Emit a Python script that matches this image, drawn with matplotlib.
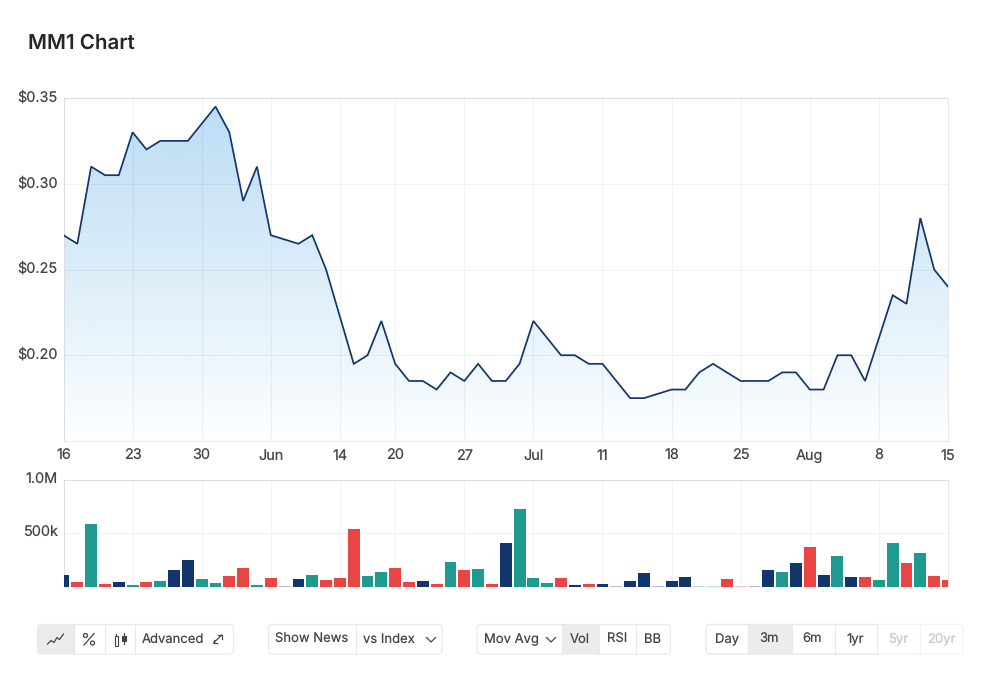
#!/usr/bin/env python3

# plot.py
# MM1 share price and volume chart with the toolbar underneath

import matplotlib
matplotlib.use("Agg")
import matplotlib.pyplot as plt
import numpy as np
from matplotlib.colors import to_rgb
from matplotlib.patches import Circle, FancyBboxPatch, Polygon, Rectangle
from matplotlib.transforms import ScaledTranslation

plt.rcParams['font.family'] = ['Inter', 'DejaVu Sans']
plt.rcParams['text.hinting'] = 'no_hinting'
plt.rcParams['text.hinting_factor'] = 1

# Data
prices = [0.27, 0.265, 0.31, 0.305, 0.305, 0.33, 0.32, 0.325, 0.325, 0.325,
          0.335, 0.345, 0.33, 0.29, 0.31, 0.27, 0.2675, 0.265, 0.27, 0.25,
          0.2225, 0.195, 0.20, 0.22, 0.195, 0.185, 0.185, 0.18, 0.19, 0.185,
          0.195, 0.185, 0.185, 0.195, 0.22, 0.21, 0.20, 0.20, 0.195, 0.195,
          0.185, 0.175, 0.175, 0.1775, 0.18, 0.18, 0.19, 0.195, 0.19, 0.185,
          0.185, 0.185, 0.19, 0.19, 0.18, 0.18, 0.20, 0.20, 0.185, 0.21,
          0.235, 0.23, 0.28, 0.25, 0.24]

volumes = [110, 40, 585, 22, 40, 14, 40, 50, 153, 244,
           72, 31, 100, 172, 12, 81, 8, 72, 110, 62,
           81, 534, 100, 131, 175, 40, 50, 22, 231, 153,
           162, 22, 403, 725, 81, 31, 81, 12, 22, 22,
           8, 50, 125, 8, 50, 90, 8, 8, 72, 8,
           8, 153, 131, 222, 372, 110, 281, 90, 90, 62,
           403, 222, 312, 100, 62]

# n = navy, g = teal, r = red, capitals are the pale variants
volume_kinds = list("nrgrngrgnn"
                    "ggrrgrNngr"
                    "rrggrrnrgr"
                    "grngggrnrn"
                    "NnnNnnGGrR"
                    "Nngnrngnrg"
                    "grgrr")

tick_positions = [0, 5, 10, 15, 20, 24, 29, 34, 39, 44, 49, 54, 59, 64]
tick_labels = ["16", "23", "30", "Jun", "14", "20", "27", "Jul", "11", "18",
               "25", "Aug", "8", "15"]

price_ticks = [0.15, 0.20, 0.25, 0.30, 0.35]
price_tick_labels = ["", "$0.20", "$0.25", "$0.30", "$0.35"]
volume_ticks = [0, 500, 1000]
volume_tick_labels = ["", "500k", "1.0M"]

NAVY = "#12366b"
GRID = "#1a2640"
EDGE = "#e8e9eb"
TEXT = "#444444"
kind_colors = {"n": NAVY, "g": "#1f9a8f", "r": "#ea4545",
               "N": "#b3bfd2", "G": "#b5e0dc", "R": "#fac3c3"}

WIDTH, HEIGHT = 1000, 675


def axes_from_pixels(left, top, right, bottom):
    return fig.add_axes([left / WIDTH, 1 - bottom / HEIGHT,
                         (right - left) / WIDTH, (bottom - top) / HEIGHT])


def style_axes(ax):
    ax.set_xlim(0, 64)
    ax.set_xticks(tick_positions)
    ax.grid(True, color=GRID, alpha=0.06, linewidth=0.75)
    ax.set_axisbelow(False)
    ax.tick_params(length=0, labelsize=10.4, labelcolor=TEXT)
    for spine in ax.spines.values():
        spine.set_color(EDGE)
        spine.set_linewidth(0.75)


def raise_y_labels(ax, pixels):
    # y labels sit slightly above their grid lines
    shift = ScaledTranslation(0, pixels / 100, fig.dpi_scale_trans)
    for tick_label in ax.get_yticklabels():
        tick_label.set_transform(tick_label.get_transform() + shift)


fig = plt.figure(figsize=(WIDTH / 100, HEIGHT / 100), dpi=100, facecolor="white")

# Price panel
ax_price = axes_from_pixels(63.5, 98, 948, 441)
x = np.arange(len(prices))

# vertical gradient under the line, clipped to the area below it
rgb = to_rgb("#a9d3f1")
gradient = np.zeros((256, 1, 4))
gradient[..., :3] = rgb
gradient[..., 3] = np.linspace(0.78, 0.02, 256)[:, None]
image = ax_price.imshow(gradient, extent=[0, 64, 0.15, max(prices)], aspect="auto",
                        origin="upper", zorder=1)
outline = list(zip(x, prices)) + [(64, 0.15), (0, 0.15)]
clip = Polygon(outline, closed=True, transform=ax_price.transData, facecolor="none",
               edgecolor="none")
ax_price.add_patch(clip)
image.set_clip_path(clip)

ax_price.plot(x, prices, color=NAVY, linewidth=1.25, zorder=3, solid_joinstyle="miter")
ax_price.set_ylim(0.15, 0.35)
style_axes(ax_price)
ax_price.set_xticklabels(tick_labels)
ax_price.set_yticks(price_ticks)
ax_price.set_yticklabels(price_tick_labels)
ax_price.tick_params(axis="x", pad=6)
ax_price.tick_params(axis="y", pad=4)
raise_y_labels(ax_price, 2)

# Volume panel
ax_vol = axes_from_pixels(63.5, 479.5, 948, 586.5)
ax_vol.bar(x, volumes, width=0.86, color=[kind_colors[k] for k in volume_kinds], zorder=3)
ax_vol.set_ylim(0, 1000)
style_axes(ax_vol)
ax_vol.set_xticklabels([])
ax_vol.set_yticks(volume_ticks)
ax_vol.set_yticklabels(volume_tick_labels)
ax_vol.tick_params(axis="y", pad=4)
ax_vol.spines["bottom"].set_visible(False)
raise_y_labels(ax_vol, 1.5)

fig.text(28 / WIDTH, 1 - 48.5 / HEIGHT, "MM1 Chart", fontsize=14.8, fontweight="semibold",
         color="#262626", va="baseline", ha="left")

# Toolbar, laid out in figure pixels
bar = fig.add_axes([0, 0, 1, 1], facecolor="none")
bar.set_xlim(0, WIDTH)
bar.set_ylim(HEIGHT, 0)
bar.axis("off")

TOP, BOTTOM = 624.5, 654
SELECTED = "#ececec"
PALE_EDGE = "#f3f3f4"


def rounded_box(left, right, edge, face="white"):
    box = FancyBboxPatch((left, TOP), right - left, BOTTOM - TOP,
                         boxstyle="round,pad=0,rounding_size=4", facecolor=face,
                         edgecolor=edge, linewidth=0.9)
    bar.add_patch(box)
    return box


def button_group(left, right, dividers, selected=None, edge=EDGE):
    box = rounded_box(left, right, edge)
    if selected is not None:
        shade = Rectangle((selected[0], TOP), selected[1] - selected[0], BOTTOM - TOP,
                          facecolor=SELECTED, edgecolor="none")
        bar.add_patch(shade)
        shade.set_clip_path(box)
    for d in dividers:
        bar.plot([d, d], [TOP, BOTTOM], color=edge, linewidth=0.9)


def label(cx, text, color=TEXT):
    bar.text(cx, 643, text, fontsize=9.4, color=color, ha="center", va="baseline")


def chevron(cx):
    bar.plot([cx - 4.5, cx, cx + 4.5], [637.5, 642, 637.5], color=TEXT, linewidth=0.9)


button_group(37.5, 233.5, [73.7, 104.5, 134.7], selected=(37.5, 73.7))
button_group(268.5, 442, [355.7])
button_group(477, 670.5, [562.3, 598.7, 636.3], selected=(562.3, 598.7))

# range buttons: the last two are disabled and only faintly outlined
button_group(706, 963, [920], edge=PALE_EDGE)
range_outline = rounded_box(706, 963, EDGE, face="none")
range_outline.set_clip_path(Rectangle((700, 620), 177, 40, transform=bar.transData))
shade_3m = Rectangle((748, TOP), 43.5, BOTTOM - TOP, facecolor=SELECTED, edgecolor="none")
bar.add_patch(shade_3m)
for d in [748, 791.5, 834.5, 877]:
    bar.plot([d, d], [TOP, BOTTOM], color=EDGE, linewidth=0.9)

# line icon
bar.plot([47.5, 51, 54, 57, 59.5, 63.5], [644, 640.5, 642.5, 637.5, 639.5, 634],
         color=TEXT, linewidth=0.9)
# percent icon
bar.plot([84, 94], [645, 633.5], color=TEXT, linewidth=0.9)
bar.add_patch(Circle((85.5, 635.5), 2, facecolor="none", edgecolor=TEXT, linewidth=0.9))
bar.add_patch(Circle((92.5, 643), 2, facecolor="none", edgecolor=TEXT, linewidth=0.9))
# candle icon
bar.add_patch(Rectangle((114.5, 636), 3.5, 9.5, facecolor="white", edgecolor=TEXT, linewidth=0.8))
bar.plot([116.2, 116.2], [633.5, 636], color=TEXT, linewidth=0.8)
bar.add_patch(Rectangle((122, 635.5), 3.5, 5.5, facecolor=TEXT, edgecolor=TEXT, linewidth=0.8))
bar.plot([123.7, 123.7], [633, 644], color=TEXT, linewidth=0.8)

label(173, "Advanced")
# expand arrow
bar.plot([213.5, 221.5], [643, 635], color=TEXT, linewidth=0.9)
bar.plot([218, 221.5, 221.5], [635, 635, 638.5], color=TEXT, linewidth=0.9)
bar.plot([213.5, 213.5, 217], [639.5, 643, 643], color=TEXT, linewidth=0.9)

label(312, "Show News")
label(389, "vs Index")
chevron(431)
label(511, "Mov Avg")
chevron(551)
label(580, "Vol")
label(617, "RSI")
label(653, "BB")
label(727, "Day")
label(769, "3m")
label(812, "6m")
label(855, "1yr")
label(898, "5yr", color="#c8c8c8")
label(941, "20yr", color="#c8c8c8")

fig.savefig("out.png", dpi=100)
